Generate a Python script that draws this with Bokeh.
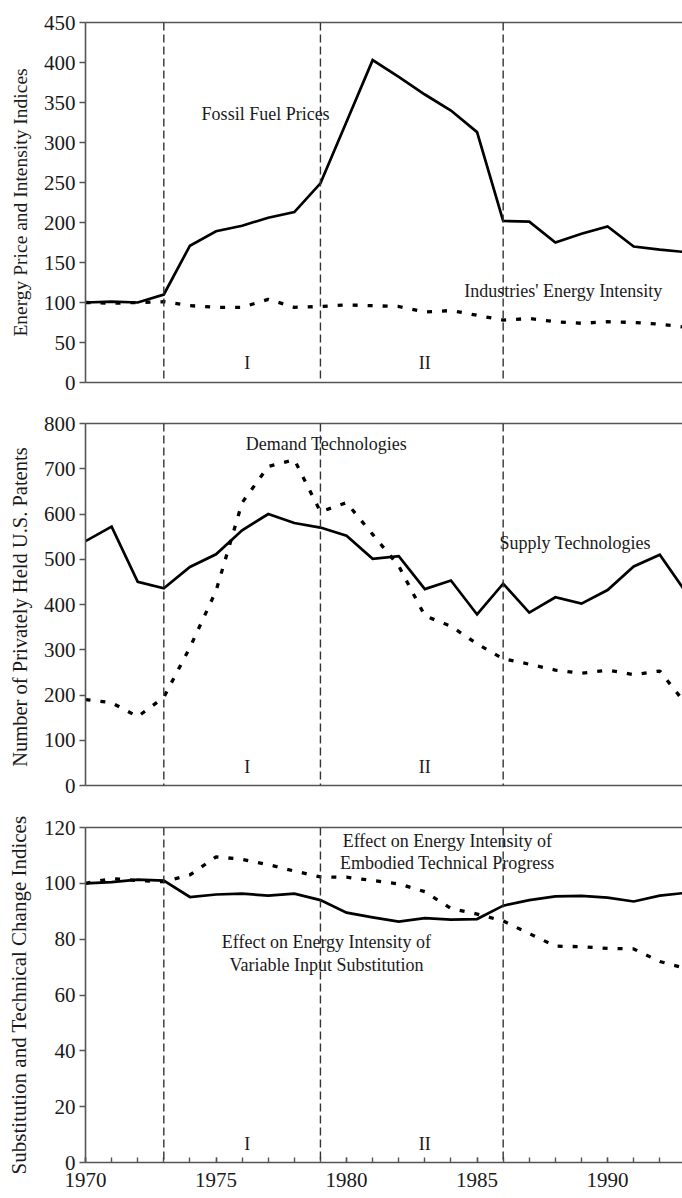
from bokeh.plotting import figure
from bokeh.models import Range1d, LinearAxis, FixedTicker, Span, Label
from bokeh.layouts import column
from bokeh.embed import file_html
from bokeh.resources import INLINE

# ---------------- data ----------------
years = list(range(1970, 1994))

fossil_fuel_prices = [100, 101, 100, 110, 171, 189, 196, 206, 213, 249, 326, 403,
                      382, 360, 340, 313, 202, 201, 175, 186, 195, 170, 166, 163]
industries_energy_intensity = [100, 99, 100, 101, 96, 94, 94, 104, 94, 95, 97, 96,
                               95, 88, 90, 84, 78, 80, 76, 74, 76, 75, 73, 69]

supply_technologies = [540, 572, 450, 436, 483, 511, 564, 600, 580, 570, 552, 501,
                       507, 434, 453, 378, 446, 382, 416, 402, 432, 484, 510, 427]
demand_technologies = [190, 183, 152, 195, 305, 430, 625, 705, 720, 605, 625, 555,
                       485, 375, 352, 313, 280, 268, 255, 248, 255, 245, 253, 180]

variable_input_substitution = [100, 100.4, 101.3, 101, 95.1, 96, 96.3, 95.6, 96.3, 94,
                               89.5, 87.8, 86.3, 87.5, 87, 87.2, 92, 94, 95.3, 95.5,
                               94.9, 93.5, 95.6, 96.6]
embodied_technical_progress = [100, 101.7, 101, 100.6, 103, 109.5, 108.6, 106.7, 104.4,
                               102.3, 102.2, 101, 99.8, 97, 91, 89, 86.5, 82, 77.5,
                               77.3, 76.7, 76.5, 72, 69.5]

period_breaks = [1973, 1979, 1986]
period_names = ["I", "II"]
x_tick_labels = [1970, 1975, 1980, 1985, 1990]
y_ticks_top = list(range(0, 451, 50))
y_ticks_mid = list(range(0, 801, 100))
y_ticks_bot = list(range(0, 121, 20))

# ---------------- styling ----------------
FONT = "Liberation Serif"
AXIS_COLOR = "#555555"
TEXT_COLOR = "#1a1a1a"
X_END = 1992.87


def make_panel(height, ymax, yticks, ylabel, label_size, b_top, b_bottom, show_x):
    p = figure(width=682, height=height,
               x_range=Range1d(1970, X_END), y_range=Range1d(0, ymax),
               output_backend="svg", toolbar_location=None,
               min_border_left=85, min_border_right=0,
               min_border_top=b_top, min_border_bottom=b_bottom,
               outline_line_color=None,
               background_fill_color="white", border_fill_color="white")
    p.xgrid.visible = False
    p.ygrid.visible = False

    ya = p.yaxis[0]
    ya.ticker = FixedTicker(ticks=yticks)
    ya.axis_label = ylabel
    ya.axis_label_text_font = FONT
    ya.axis_label_text_font_size = label_size
    ya.axis_label_text_font_style = "normal"
    ya.axis_label_text_color = TEXT_COLOR
    ya.axis_label_standoff = 10
    ya.major_label_text_font = FONT
    ya.major_label_text_font_size = "21px"
    ya.major_label_text_color = TEXT_COLOR
    ya.major_label_standoff = 4
    ya.major_tick_out = 6
    ya.major_tick_in = 0
    ya.minor_tick_line_color = None
    ya.axis_line_color = AXIS_COLOR
    ya.axis_line_width = 1.6
    ya.major_tick_line_color = AXIS_COLOR
    ya.major_tick_line_width = 1.4

    xa = p.xaxis[0]
    xa.axis_line_color = AXIS_COLOR
    xa.axis_line_width = 1.6
    if show_x:
        xa.ticker = FixedTicker(ticks=x_tick_labels, minor_ticks=years)
        xa.major_label_text_font = FONT
        xa.major_label_text_font_size = "21px"
        xa.major_label_text_color = TEXT_COLOR
        xa.major_label_standoff = 10
        xa.major_tick_in = 5
        xa.major_tick_out = 0
        xa.minor_tick_in = 5
        xa.minor_tick_out = 0
        xa.major_tick_line_color = AXIS_COLOR
        xa.minor_tick_line_color = AXIS_COLOR
        xa.major_tick_line_width = 1.4
        xa.minor_tick_line_width = 1.4
    else:
        xa.ticker = FixedTicker(ticks=[])
        xa.major_tick_line_color = None
        xa.minor_tick_line_color = None

    top = LinearAxis(ticker=FixedTicker(ticks=[]), axis_line_color=AXIS_COLOR,
                     axis_line_width=1.6, major_tick_line_color=None,
                     minor_tick_line_color=None)
    p.add_layout(top, "above")

    for yr in period_breaks:
        p.add_layout(Span(location=yr, dimension="height", line_color="#333333",
                          line_width=1.4, line_dash="8 4"))
    return p


def add_text(p, x, y, text):
    p.add_layout(Label(x=x, y=y, text=text, text_font=FONT, text_font_size="18px",
                       text_align="center", text_baseline="middle",
                       text_color=TEXT_COLOR))


def add_periods(p, y):
    for x, name in zip([1976.2, 1983.0], period_names):
        add_text(p, x, y, name)


SOLID = dict(line_color="black", line_width=2.7, line_join="miter")
DOTTED = dict(line_color="black", line_width=3.3, line_dash="5 10")

# ---------------- top panel ----------------
p1 = make_panel(405, 450, y_ticks_top, "Energy Price and Intensity Indices", "19.5px",
                22, 23, False)
p1.line(years, industries_energy_intensity, **DOTTED)
p1.line(years, fossil_fuel_prices, **SOLID)
add_text(p1, 1976.9, 336, "Fossil Fuel Prices")
add_text(p1, 1988.3, 115, "Industries' Energy Intensity")
add_periods(p1, 25)

# ---------------- middle panel ----------------
p2 = make_panel(400, 800, y_ticks_mid, "Number of  Privately Held U.S. Patents", "20.5px",
                18, 20, False)
p2.line(years, demand_technologies, **DOTTED)
p2.line(years, supply_technologies, **SOLID)
add_text(p2, 1979.23, 755, "Demand Technologies")
add_text(p2, 1988.76, 535, "Supply Technologies")
add_periods(p2, 40)

# ---------------- bottom panel ----------------
p3 = make_panel(392, 120, y_ticks_bot, "Substitution and Technical Change Indices", "21px",
                22, 35, True)
p3.line(years, embodied_technical_progress, **DOTTED)
p3.line(years, variable_input_substitution, **SOLID)
add_text(p3, 1983.86, 115.1, "Effect on Energy Intensity of")
add_text(p3, 1983.86, 107.2, "Embodied Technical Progress")
add_text(p3, 1979.23, 79.0, "Effect on Energy Intensity of")
add_text(p3, 1979.23, 70.6, "Variable Input Substitution")
add_periods(p3, 6.7)

layout = column(p1, p2, p3)
open("out.html", "w").write(file_html(layout, INLINE))
